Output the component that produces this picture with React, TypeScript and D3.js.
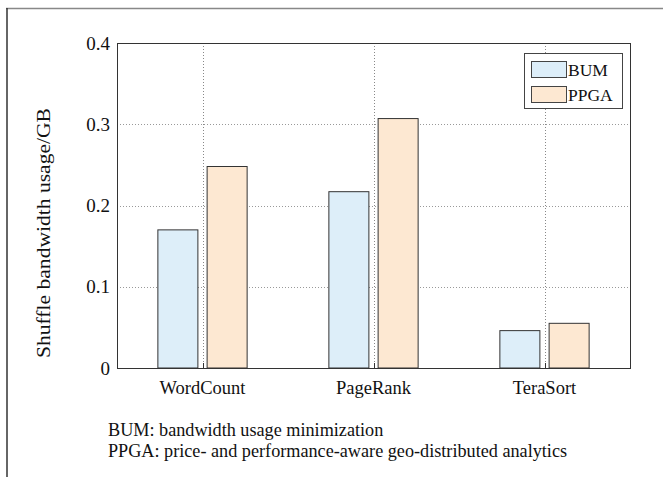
import React from "react";
import * as d3 from "d3";

const categories = ["WordCount", "PageRank", "TeraSort"];
const seriesNames = ["BUM", "PPGA"];
const bumValues = [0.170, 0.217, 0.046];
const ppgaValues = [0.248, 0.307, 0.055];
const yTicks = [0, 0.1, 0.2, 0.3, 0.4];
const yTitle = "Shuffle bandwidth usage/GB";
const footnotes = [
  "BUM: bandwidth usage minimization",
  "PPGA: price- and performance-aware geo-distributed analytics",
];

const seriesColors = ["#ddeef9", "#fde8d2"];

export default function App() {
  const W = 663, H = 477;
  const left = 117, right = 630, top = 43, bottom = 368;
  const x = d3.scaleLinear().domain([0.5, categories.length + 0.5]).range([left, right]);
  const y = d3.scaleLinear().domain([0, 0.4]).range([bottom, top]);
  const series = [bumValues, ppgaValues];
  const barW = 0.234;
  const offs = [-0.144, 0.144];
  const font = "Liberation Serif, DejaVu Serif, serif";

  return (
    <div style={{ position: "absolute", left: 0, top: 0 }}>
      <svg width={W} height={H} style={{ display: "block", background: "#fff", fontFamily: font }}>
        {/* outer frame */}
        <line x1={6} x2={W} y1={8.5} y2={8.5} stroke="#888" strokeWidth={1.6} />
        <line x1={7} x2={7} y1={8} y2={H} stroke="#333" strokeWidth={1.5} />

        {/* grid */}
        {yTicks.filter((t) => t > 0 && t < 0.4).map((t) => (
          <line key={"gy" + t} x1={left} x2={right} y1={Math.round(y(t)) + 0.5} y2={Math.round(y(t)) + 0.5}
            stroke="#999" strokeWidth={1} strokeDasharray="1,2" />
        ))}
        {categories.map((c, i) => (
          <line key={"gx" + c} x1={Math.round(x(i + 1)) + 0.5} x2={Math.round(x(i + 1)) + 0.5} y1={top} y2={bottom}
            stroke="#888" strokeWidth={1} strokeDasharray="1,2" />
        ))}

        {/* bars */}
        {series.map((vals, s) =>
          vals.map((v, i) => {
            const x0 = x(i + 1 + offs[s] - barW / 2);
            const x1 = x(i + 1 + offs[s] + barW / 2);
            return (
              <rect key={s + "-" + i} x={x0} y={y(v)} width={x1 - x0} height={y(0) - y(v)}
                fill={seriesColors[s]} stroke="#333" strokeWidth={1} />
            );
          })
        )}

        {/* x ticks */}
        {categories.map((c, i) => (
          <line key={"xt" + c} x1={Math.round(x(i + 1)) + 0.5} x2={Math.round(x(i + 1)) + 0.5} y1={bottom} y2={bottom - 5}
            stroke="#333" strokeWidth={1} />
        ))}

        {/* axes box */}
        <rect x={left + 0.5} y={top + 0.5} width={right - left} height={bottom - top} fill="none" stroke="#333" strokeWidth={1} />

        {/* y tick labels */}
        {yTicks.map((t) => (
          <text key={"yl" + t} x={110} y={y(t)} dy="0.35em" textAnchor="end" fontSize={19} fill="#111">
            {t === 0 ? "0" : d3.format(".1f")(t)}
          </text>
        ))}

        {/* x labels */}
        {categories.map((c, i) => (
          <text key={"xl" + c} x={x(i + 1)} y={394} textAnchor="middle" fontSize={18.5} fill="#111">{c}</text>
        ))}

        {/* y title */}
        <text transform={`translate(50,233) rotate(-90)`} textAnchor="middle" fontSize={18.5} fill="#111"
          textLength={250} lengthAdjust="spacingAndGlyphs">
          {yTitle}
        </text>

        {/* legend */}
        <rect x={524.5} y={53.5} width={98} height={55} fill="#fff" stroke="#444" strokeWidth={1} />
        {seriesNames.map((n, s) => (
          <g key={n}>
            <rect x={531.5} y={61.5 + s * 25} width={35} height={16} fill={seriesColors[s]} stroke="#444" strokeWidth={1} />
            <text x={568} y={76 + s * 25} fontSize={17.5} fill="#111">{n}</text>
          </g>
        ))}

        {/* footnotes */}
        {footnotes.map((f, k) => (
          <text key={k} x={108} y={436 + k * 21} fontSize={18.2} fill="#111">{f}</text>
        ))}
      </svg>
    </div>
  );
}
